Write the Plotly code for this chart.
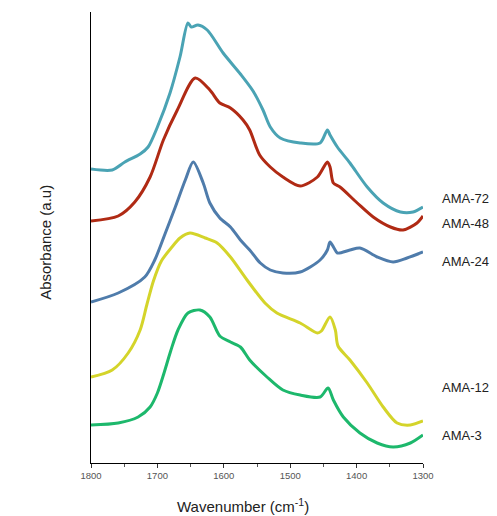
import plotly.graph_objects as go

# AMA-72 (teal)
wn_72 = [1800, 1768, 1749, 1726, 1714, 1700, 1681, 1666, 1654, 1649, 1639, 1625, 1601, 1575, 1556, 1541, 1530, 1515, 1485, 1455, 1444, 1440, 1429, 1410, 1384, 1360, 1334, 1315, 1300]
ab_72 = [2.94, 2.93, 3.01, 3.09, 3.16, 3.36, 3.70, 4.06, 4.40, 4.36, 4.38, 4.33, 4.10, 3.89, 3.72, 3.53, 3.36, 3.25, 3.20, 3.20, 3.33, 3.28, 3.16, 3.00, 2.76, 2.60, 2.51, 2.51, 2.56]

# AMA-48 (red)
wn_48 = [1800, 1759, 1734, 1711, 1691, 1670, 1643, 1621, 1606, 1590, 1571, 1561, 1546, 1530, 1511, 1485, 1459, 1444, 1440, 1435, 1425, 1399, 1375, 1349, 1330, 1309, 1300]
ab_48 = [2.42, 2.47, 2.61, 2.86, 3.23, 3.53, 3.85, 3.73, 3.60, 3.55, 3.43, 3.33, 3.08, 2.96, 2.86, 2.77, 2.86, 3.01, 2.96, 2.80, 2.76, 2.60, 2.46, 2.36, 2.33, 2.40, 2.47]

# AMA-24 (blue)
wn_24 = [1800, 1759, 1719, 1704, 1688, 1673, 1658, 1646, 1631, 1621, 1606, 1590, 1575, 1561, 1545, 1530, 1511, 1485, 1455, 1444, 1440, 1434, 1429, 1410, 1395, 1369, 1345, 1324, 1300]
ab_24 = [1.61, 1.70, 1.86, 2.03, 2.30, 2.56, 2.83, 3.01, 2.80, 2.60, 2.45, 2.36, 2.23, 2.13, 2.00, 1.93, 1.90, 1.91, 2.03, 2.13, 2.21, 2.15, 2.10, 2.13, 2.15, 2.06, 2.01, 2.05, 2.11]

# AMA-12 (yellow)
wn_12 = [1800, 1768, 1744, 1726, 1716, 1706, 1694, 1678, 1666, 1651, 1628, 1610, 1590, 1565, 1538, 1520, 1485, 1459, 1453, 1440, 1432, 1428, 1410, 1384, 1360, 1339, 1319, 1300]
ab_12 = [0.86, 0.93, 1.10, 1.33, 1.58, 1.82, 2.02, 2.16, 2.25, 2.30, 2.25, 2.20, 2.06, 1.83, 1.60, 1.50, 1.40, 1.30, 1.32, 1.46, 1.33, 1.17, 1.03, 0.80, 0.56, 0.40, 0.38, 0.42]

# AMA-3 (green)
wn_3 = [1800, 1759, 1729, 1711, 1700, 1690, 1680, 1669, 1654, 1636, 1621, 1606, 1590, 1575, 1561, 1535, 1511, 1485, 1455, 1443, 1435, 1420, 1395, 1369, 1345, 1319, 1300]
ab_3 = [0.38, 0.40, 0.46, 0.56, 0.70, 0.90, 1.12, 1.33, 1.50, 1.53, 1.46, 1.27, 1.21, 1.16, 1.03, 0.86, 0.73, 0.68, 0.66, 0.75, 0.63, 0.46, 0.30, 0.20, 0.16, 0.20, 0.28]

series = [
    ("AMA-72", wn_72, ab_72, "#4aa3b4", 2.65),
    ("AMA-48", wn_48, ab_48, "#b02a14", 2.40),
    ("AMA-24", wn_24, ab_24, "#4f7cab", 2.02),
    ("AMA-12", wn_12, ab_12, "#d4d42a", 0.76),
    ("AMA-3", wn_3, ab_3, "#1db86c", 0.28),
]

x_ticks = [1800, 1700, 1600, 1500, 1400, 1300]

fig = go.Figure()
annotations = []
for name, xs, ys, col, ly in series:
    fig.add_trace(go.Scatter(x=xs, y=ys, mode="lines", name=name,
                             line=dict(color=col, width=3, shape="spline", smoothing=0.8)))
    annotations.append(dict(x=1.051, xref="paper", y=ly, yref="y", text=name,
                            showarrow=False, xanchor="left", yanchor="middle",
                            font=dict(size=13, color="#222", family="Liberation Sans, Arial")))

annotations.append(dict(x=0.458, xref="paper", y=-0.095, yref="paper",
                        text="Wavenumber (cm<sup>-1</sup>)", showarrow=False,
                        xanchor="center", yanchor="middle",
                        font=dict(size=15, color="#222", family="Liberation Sans, Arial")))
annotations.append(dict(x=-0.139, xref="paper", y=0.49, yref="paper",
                        text="Absorbance (a.u)", showarrow=False, textangle=-90,
                        xanchor="center", yanchor="middle",
                        font=dict(size=15, color="#222", family="Liberation Sans, Arial")))

fig.update_layout(
    width=497, height=516,
    margin=dict(l=91, r=74, t=12, b=53),
    paper_bgcolor="white", plot_bgcolor="white",
    showlegend=False,
    annotations=annotations,
    xaxis=dict(range=[1800, 1300], tickvals=x_ticks, ticktext=[str(v) for v in x_ticks],
               showline=True, linecolor="black", linewidth=1, showgrid=False, zeroline=False,
               ticks="outside", ticklen=4, tickcolor="#333",
               minor=dict(dtick=50, ticks="outside", ticklen=3, tickcolor="#555"),
               tickfont=dict(size=9.5, color="#555", family="Liberation Sans, Arial")),
    yaxis=dict(range=[0, 4.51], showline=True, linecolor="black", linewidth=1,
               showgrid=False, zeroline=False, showticklabels=False, ticks=""),
)

fig.write_html("out.html", config={"displayModeBar": False},
               post_script="document.body.style.margin='0';document.body.style.overflow='hidden';")
